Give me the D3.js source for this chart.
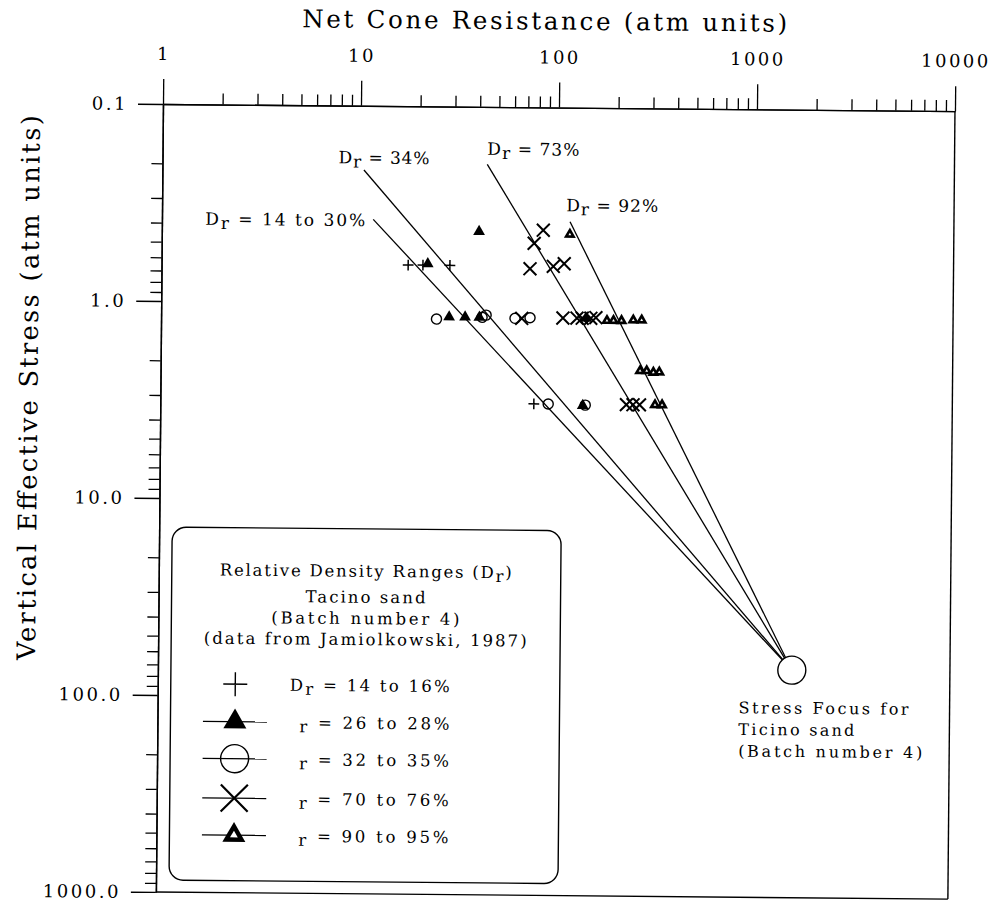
<!DOCTYPE html>
<html>
<head>
<meta charset="utf-8">
<script src="https://cdn.jsdelivr.net/npm/d3@7"></script>
<style>
  body { margin: 0; background: #fff; }
  svg text { font-family: "DejaVu Serif", serif; fill: #000; }
</style>
</head>
<body>
<svg id="chart" width="998" height="904"></svg>
<script>
// ---- axis ticks ----
const xTickValues = [1, 10, 100, 1000, 10000];
const xTickLabels = ["1", "10", "100", "1000", "10000"];
const yTickValues = [0.1, 1, 10, 100, 1000];
const yTickLabels = ["0.1", "1.0", "10.0", "100.0", "1000.0"];

// ---- measured points: [net cone resistance, vertical effective stress] ----
const dr14to16 = [[17.6, 0.64], [20.9, 0.64], [28.6, 0.64], [77, 3.2]];
const dr26to28 = [[22.1, 0.63], [40, 0.43], [28.5, 1.17], [34.3, 1.17], [40.5, 1.17], [140, 1.17], [136, 3.25]];
const dr32to35 = [[24.6, 1.2], [41.8, 1.17], [43.8, 1.14], [61.3, 1.18], [73, 1.17], [91, 3.2], [140, 3.23]];
const dr70to76 = [[84.4, 0.42], [76, 0.49], [72.6, 0.66], [95.2, 0.64], [108, 0.62],
                  [66.3, 1.18], [107, 1.17], [126, 1.17], [134, 1.17], [148, 1.17], [157, 1.16],
                  [226, 3.2], [244, 3.2], [263, 3.2]];
const dr90to95 = [[115, 0.44], [178.6, 1.2], [192.7, 1.2], [211.5, 1.2], [242.6, 1.19], [267.5, 1.19],
                  [264, 2.15], [285, 2.15], [308, 2.19], [330, 2.18], [315, 3.2], [342, 3.2]];

const seriesData = [dr14to16, dr26to28, dr32to35, dr70to76, dr90to95];
const seriesRanges = ["14 to 16%", "26 to 28%", "32 to 35%", "70 to 76%", "90 to 95%"];
const seriesShapes = ["plus", "triangle", "circle", "times", "triangleOpen"];

// ---- stress focus and the relative density lines radiating from it ----
const stressFocus = [1590, 70];
const densityLabels = ["14 to 30%", "34%", "73%", "92%"];
const densityLineStarts = [[11.67, 0.3765], [10.42, 0.2118], [43.7, 0.1956], [115.1, 0.3792]];

// ---- text ----
const xTitle = "Net Cone Resistance (atm units)";
const yTitle = "Vertical Effective Stress (atm units)";
const legendHeading = ["Tacino sand", "(Batch number 4)", "(data from Jamiolkowski, 1987)"];
const focusNote = ["Stress Focus for", "Ticino sand", "(Batch number 4)"];

// ---- layout ----
const plotL = 163, plotT = 104, plotR = 955, plotB = 892;
const svg = d3.select("#chart");
// the whole sheet sits slightly turned on the page
const g = svg.append("g").attr("transform", `rotate(0.516, ${plotL}, ${plotT})`);

const x = d3.scaleLog().domain([1, 10000]).range([plotL, plotR]);
const y = d3.scaleLog().domain([0.1, 1000]).range([plotT, plotB]);

const minorsOf = (lo, hi) => {
  const out = [];
  for (let p = lo; p < hi * 0.999; p *= 10) for (let k = 2; k <= 9; k++) out.push(p * k);
  return out;
};

// top axis
g.append("g").attr("transform", `translate(0,${plotT})`)
  .call(d3.axisTop(x).tickValues(xTickValues).tickSize(25).tickSizeOuter(0).tickPadding(19)
    .tickFormat((d, i) => xTickLabels[i]));
g.append("g").attr("transform", `translate(0,${plotT})`)
  .call(d3.axisTop(x).tickValues(minorsOf(1, 10000)).tickSize(11).tickSizeOuter(0).tickFormat(""));

// left axis
g.append("g").attr("transform", `translate(${plotL},0)`)
  .call(d3.axisLeft(y).tickValues(yTickValues).tickSize(25).tickSizeOuter(0).tickPadding(10)
    .tickFormat((d, i) => yTickLabels[i]));
g.append("g").attr("transform", `translate(${plotL},0)`)
  .call(d3.axisLeft(y).tickValues(minorsOf(0.1, 1000)).tickSize(11).tickSizeOuter(0).tickFormat(""));

g.selectAll(".domain").attr("stroke", "#000").attr("stroke-width", 1.4);
g.selectAll(".tick line").attr("stroke", "#000").attr("stroke-width", 1.3);
g.selectAll(".tick text").attr("font-size", 18).attr("letter-spacing", 2.5)
  .attr("font-family", "DejaVu Serif").attr("fill", "#000");

// right and bottom frame lines
g.append("line").attr("x1", plotR).attr("x2", plotR).attr("y1", plotT).attr("y2", plotB)
  .attr("stroke", "#000").attr("stroke-width", 1.4);
g.append("line").attr("x1", plotL).attr("x2", plotR).attr("y1", plotB).attr("y2", plotB)
  .attr("stroke", "#000").attr("stroke-width", 1.4);

// axis titles
g.append("text").attr("x", 544).attr("y", 26).attr("text-anchor", "middle")
  .attr("font-size", 24.5).attr("textLength", 485).attr("lengthAdjust", "spacing").text(xTitle);
g.append("text").attr("transform", "translate(40,389) rotate(-90)").attr("text-anchor", "middle")
  .attr("font-size", 25.5).attr("textLength", 545).attr("lengthAdjust", "spacing").text(yTitle);

// text with the subscript "r" of D_r
function subText(sel, lead, tail, sub) {
  if (lead) sel.append("tspan").text(lead);
  sel.append("tspan").attr("dy", sub).text("r");
  sel.append("tspan").attr("dy", -sub).text(tail);
  return sel;
}

// density lines to the focus
const line = d3.line().x(d => x(d[0])).y(d => y(d[1]));
g.selectAll("path.dr").data(densityLineStarts).join("path").attr("class", "dr")
  .attr("d", d => line([d, stressFocus]))
  .attr("fill", "none").attr("stroke", "#000").attr("stroke-width", 1.3);

// label placement relative to the upper end of each line
const labelPlace = [
  { dx: -8, dy: 7, anchor: "end", len: 160 },
  { dx: -25.5, dy: -6.5, anchor: "start", len: 91 },
  { dx: 0, dy: -9.5, anchor: "start", len: 92 },
  { dx: -4, dy: -10.5, anchor: "start", len: 92 }
];
densityLineStarts.forEach((s, i) => {
  const p = labelPlace[i];
  const t = g.append("text").attr("x", x(s[0]) + p.dx).attr("y", y(s[1]) + p.dy)
    .attr("text-anchor", p.anchor).attr("font-size", 17)
    .attr("textLength", p.len).attr("lengthAdjust", "spacing");
  subText(t, "D", " = " + densityLabels[i], 4);
});

// focus circle
g.append("circle").attr("cx", x(stressFocus[0])).attr("cy", y(stressFocus[1])).attr("r", 14)
  .attr("fill", "#fff").attr("stroke", "#000").attr("stroke-width", 1.4);
const noteW = [170, 116, 184];
focusNote.forEach((s, i) => {
  g.append("text").attr("x", 744).attr("y", 708 + i * 21.7).attr("font-size", 16)
    .attr("textLength", noteW[i]).attr("lengthAdjust", "spacing").text(s);
});

// marker drawing
function drawMarker(sel, shape) {
  if (shape === "plus") {
    sel.append("path").attr("d", d3.symbol(d3.symbolPlus, 40)())
      .attr("fill", "none").attr("stroke", "#000").attr("stroke-width", 1.5);
  } else if (shape === "times") {
    sel.append("path").attr("d", d3.symbol(d3.symbolTimes, 110)())
      .attr("fill", "none").attr("stroke", "#000").attr("stroke-width", 2);
  } else if (shape === "circle") {
    sel.append("path").attr("d", d3.symbol(d3.symbolCircle, 80)())
      .attr("fill", "none").attr("stroke", "#000").attr("stroke-width", 1.4);
  } else if (shape === "triangle") {
    sel.append("path").attr("d", d3.symbol(d3.symbolTriangle, 60)()).attr("fill", "#000");
  } else {
    sel.append("path").attr("d", d3.symbol(d3.symbolTriangle, 62)()).attr("fill", "#000");
    sel.append("path").attr("d", d3.symbol(d3.symbolTriangle, 3.5)()).attr("fill", "#fff");
  }
}

seriesData.forEach((pts, si) => {
  g.append("g").selectAll("g").data(pts).join("g")
    .attr("transform", d => `translate(${x(d[0])},${y(d[1])})`)
    .each(function () { drawMarker(d3.select(this), seriesShapes[si]); });
});

// legend
const lg = g.append("g");
lg.append("rect").attr("x", 176).attr("y", 527).attr("width", 389).attr("height", 353).attr("rx", 14)
  .attr("fill", "#fff").attr("stroke", "#000").attr("stroke-width", 1.4);
subText(lg.append("text").attr("x", 370).attr("y", 575).attr("text-anchor", "middle").attr("font-size", 16.5)
  .attr("textLength", 292).attr("lengthAdjust", "spacing"), "Relative Density Ranges (D", ")", 4);
const headW = [120, 188, 323];
const headY = [601, 622.3, 643.3];
legendHeading.forEach((s, i) => {
  lg.append("text").attr("x", 370).attr("y", headY[i]).attr("text-anchor", "middle").attr("font-size", 16.5)
    .attr("textLength", headW[i]).attr("lengthAdjust", "spacing").text(s);
});
const rowY = [683.5, 721, 758, 797.5, 834.5];
seriesRanges.forEach((r, i) => {
  if (i > 0) {
    lg.append("line").attr("x1", 208.5).attr("x2", 272.5).attr("y1", rowY[i]).attr("y2", rowY[i])
      .attr("stroke", "#000").attr("stroke-width", 1.4);
  }
  const m = lg.append("g").attr("transform", `translate(240.5,${rowY[i]})`);
  if (seriesShapes[i] === "plus") {
    m.append("path").attr("d", d3.symbol(d3.symbolPlus, 190)()).attr("fill", "none")
      .attr("stroke", "#000").attr("stroke-width", 1.4);
  } else if (seriesShapes[i] === "times") {
    m.append("path").attr("d", d3.symbol(d3.symbolTimes, 478)()).attr("fill", "none")
      .attr("stroke", "#000").attr("stroke-width", 2.2);
  } else if (seriesShapes[i] === "circle") {
    m.append("path").attr("d", d3.symbol(d3.symbolCircle, 616)()).attr("fill", "none")
      .attr("stroke", "#000").attr("stroke-width", 1.4);
  } else if (seriesShapes[i] === "triangle") {
    m.append("path").attr("d", d3.symbol(d3.symbolTriangle, 229)()).attr("fill", "#000");
  } else {
    m.append("path").attr("d", d3.symbol(d3.symbolTriangle, 229)()).attr("fill", "#000");
    m.append("path").attr("d", d3.symbol(d3.symbolTriangle, 26)()).attr("fill", "#fff");
  }
  const t = lg.append("text").attr("y", rowY[i] + 6).attr("font-size", 16.5).attr("lengthAdjust", "spacing");
  if (i === 0) {
    t.attr("x", 295).attr("textLength", 160);
    subText(t, "D", " = " + r, 4);
  } else {
    t.attr("x", 305).attr("textLength", 150);
    subText(t, "", " = " + r, 4);
  }
});
</script>
</body>
</html>
